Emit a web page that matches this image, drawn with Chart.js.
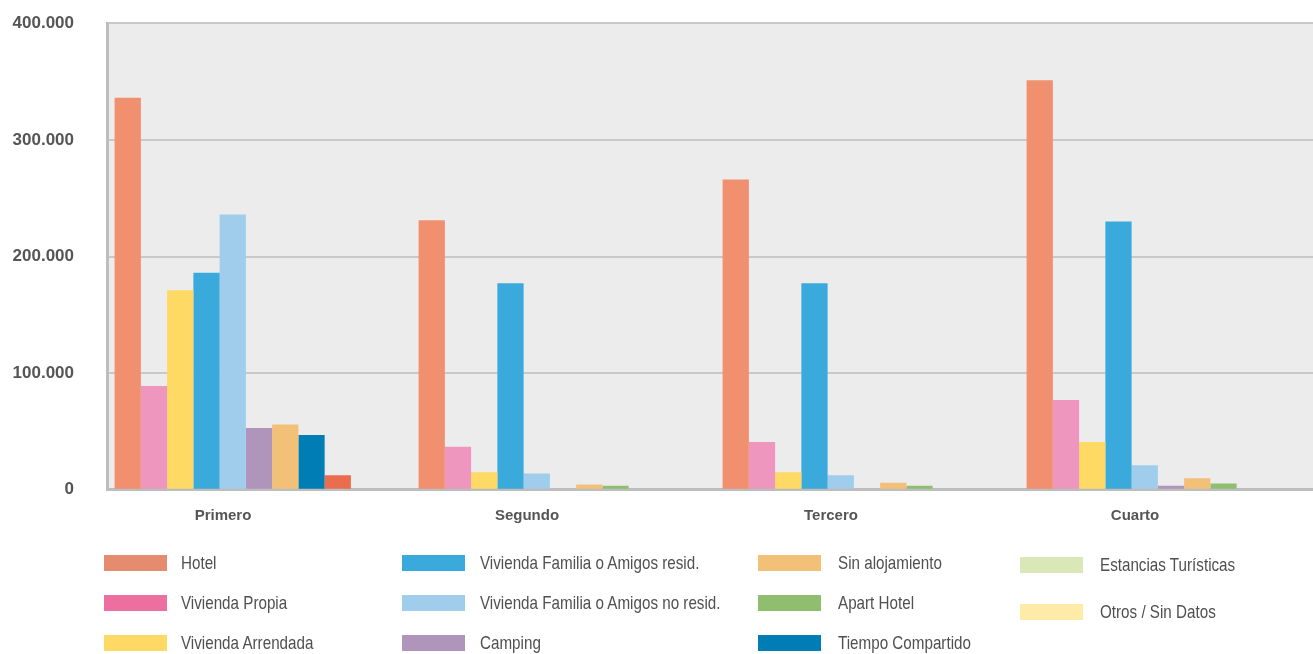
<!DOCTYPE html>
<html>
<head>
<meta charset="utf-8">
<script src="https://cdn.jsdelivr.net/npm/chart.js@4"></script>
<style>
  html, body { margin: 0; padding: 0; background: #fff; overflow: hidden; }
  #page { position: relative; width: 1313px; height: 654px; overflow: hidden; }
  #myChart { position: absolute; left: 0; top: -20px; }
  #legend { position: absolute; left: 0; top: 0; width: 1313px; height: 654px; }
  .col { position: absolute; top: 555px; display: flex; flex-direction: column; gap: 24px; }
  .item { display: flex; align-items: center; height: 16px; }
  .swatch { width: 63px; height: 16px; flex: none; }
  .label {
    display: inline-block;
    font-family: "Liberation Sans", Arial, sans-serif;
    font-size: 19px; color: #505050; white-space: nowrap;
    transform: scaleX(0.8); transform-origin: left center;
  }
</style>
</head>
<body>
<div id="page">
  <canvas id="myChart" width="1323" height="553"></canvas>
  <div id="legend"></div>
</div>
<script>
"use strict";

const quarters = ["Primero", "Segundo", "Tercero", "Cuarto"];

const seriesNames = [
  "Hotel",
  "Vivienda Propia",
  "Vivienda Arrendada",
  "Vivienda Familia o Amigos resid.",
  "Vivienda Familia o Amigos no resid.",
  "Camping",
  "Sin alojamiento",
  "Apart Hotel",
  "Tiempo Compartido",
  "Estancias Turísticas",
  "Otros / Sin Datos",
];

// values per quarter
const hotel = [336000, 231000, 266000, 351000];
const viviendaPropia = [89000, 37000, 41000, 77000];
const viviendaArrendada = [171000, 15000, 15000, 41000];
const familiaResid = [186000, 177000, 177000, 230000];
const familiaNoResid = [236000, 14000, 12500, 21000];
const camping = [53000, 0, 0, 3500];
const sinAlojamiento = [56000, 4500, 6000, 10000];
const apartHotel = [47000, 3500, 3500, 5500];
const tiempoCompartido = [12500, 0, 0, 0];
const estancias = [0, 0, 0, 0];
const otros = [0, 0, 0, 0];

const yTicks = [0, 100000, 200000, 300000, 400000];

const barColors = ["#F0906E", "#EF96BE", "#FED964", "#3AAADC", "#A0CDEB", "#AF95BA",
  "#F3C078", "#8FBE6E", "#007DB4", "#DAE8B8", "#FFEBA8"];
// in the first quarter the last two bars come out in other colours
const firstQuarterColors = { 7: "#007DB4", 8: "#EC6D4E" };
const legendColors = ["#E58B6E", "#EC6FA0", "#FED964", "#3AAADC", "#A0CDEB", "#AF95BA",
  "#F3C078", "#8FBE6E", "#007DB4", "#DAE8B8", "#FFEBA8"];

const allValues = [hotel, viviendaPropia, viviendaArrendada, familiaResid, familiaNoResid,
  camping, sinAlojamiento, apartHotel, tiempoCompartido, estancias, otros];

function formatThousands(v) {
  return String(v).replace(/\B(?=(\d{3})+(?!\d))/g, ".");
}

function buildDatasets() {
  let datasets = [];
  for (let i in seriesNames) {
    let colors = quarters.map((q, j) =>
      j === 0 && firstQuarterColors[i] ? firstQuarterColors[i] : barColors[i]);
    datasets.push({
      label: seriesNames[i],
      data: allValues[i],
      backgroundColor: colors,
      borderWidth: 0,
      categoryPercentage: 0.95,
      barPercentage: 1.0,
    });
  }
  return datasets;
}

function buildLegend() {
  let legend = document.getElementById("legend");
  const colLeft = [104, 402, 758, 1020];
  const labelGap = [77, 78, 80, 80];
  for (let c = 0; c < 4; c++) {
    let col = document.createElement("div");
    col.className = "col";
    col.style.left = colLeft[c] + "px";
    if (c === 3) {
      col.style.top = "557px";
      col.style.gap = "31px";
    }
    for (let r = 0; r < 3; r++) {
      let i = c * 3 + r;
      if (i >= seriesNames.length) break;
      let item = document.createElement("div");
      item.className = "item";
      let sw = document.createElement("div");
      sw.className = "swatch";
      sw.style.background = legendColors[i];
      sw.style.marginRight = (labelGap[c] - 63) + "px";
      let lab = document.createElement("span");
      lab.className = "label";
      lab.textContent = seriesNames[i];
      item.appendChild(sw);
      item.appendChild(lab);
      col.appendChild(item);
    }
    legend.appendChild(col);
  }
}

const plotBackground = {
  id: "plotBackground",
  beforeDraw(chart) {
    const { ctx, chartArea } = chart;
    ctx.save();
    ctx.fillStyle = "#ECECEC";
    ctx.fillRect(chartArea.left, chartArea.top, chartArea.right - chartArea.left,
      chartArea.bottom - chartArea.top);
    ctx.restore();
  },
};

function displayChart() {
  const ctx = document.getElementById("myChart").getContext("2d");
  new Chart(ctx, {
    type: "bar",
    data: {
      labels: quarters,
      datasets: buildDatasets(),
    },
    options: {
      responsive: false,
      animation: false,
      layout: { padding: 0 },
      plugins: {
        legend: { display: false },
        tooltip: { enabled: false },
      },
      scales: {
        x: {
          grid: { display: false, drawTicks: false },
          border: { color: "#BDBDBD", width: 3 },
          ticks: {
            color: "#555",
            font: { family: "Liberation Sans", size: 15, weight: "bold" },
            padding: 17,
            labelOffset: -36,
          },
          afterFit(scale) { scale.height = 41; },
        },
        y: {
          min: 0,
          max: yTicks[yTicks.length - 1],
          afterBuildTicks(scale) {
            scale.ticks = yTicks.map((v) => ({ value: v }));
          },
          grid: { color: "#C9C9C9", lineWidth: 2, drawTicks: false },
          border: { color: "#BDBDBD", width: 3 },
          ticks: {
            color: "#555",
            font: { family: "Liberation Sans", size: 17, weight: "bold" },
            padding: 33,
            callback: (v) => formatThousands(v),
          },
          afterFit(scale) { scale.width = 107; },
        },
      },
    },
    plugins: [plotBackground],
  });
}

buildLegend();
displayChart();
</script>
</body>
</html>
